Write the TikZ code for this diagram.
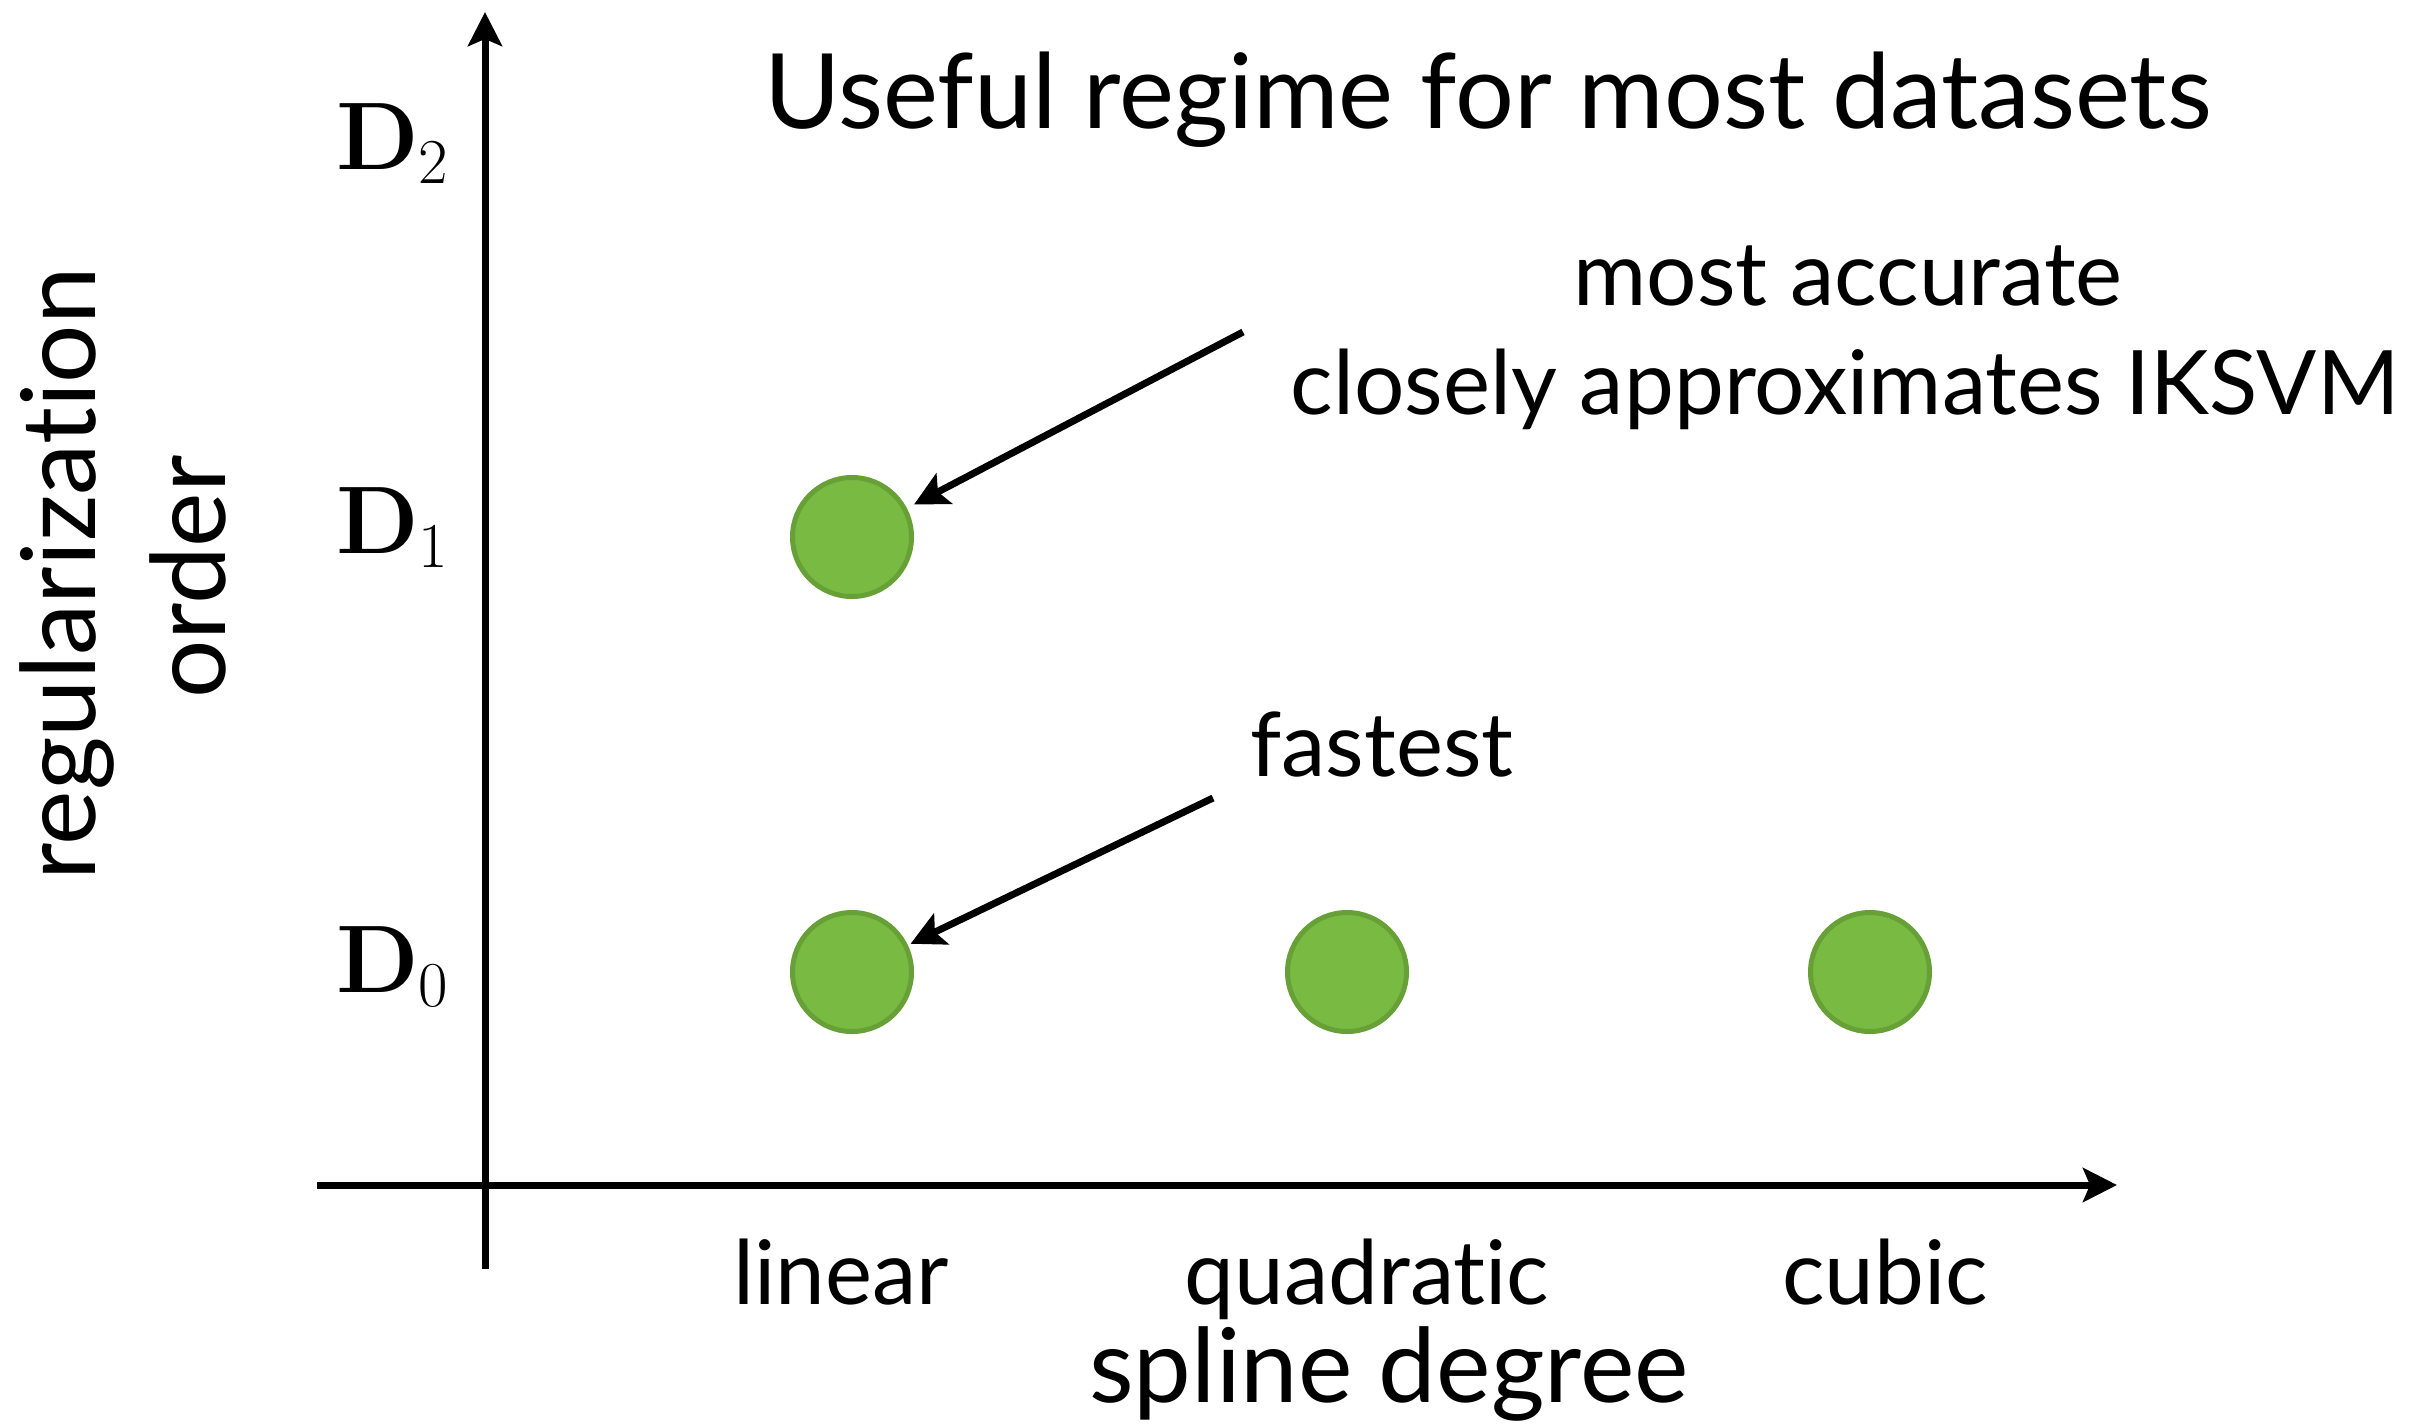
\documentclass[tikz,border=0pt]{standalone}
\usepackage{fontspec}
\newfontfamily\gill[Ligatures=NoCommon]{Lato}
\usetikzlibrary{arrows.meta}
\definecolor{dotfill}{RGB}{121,186,66}
\definecolor{dotline}{RGB}{104,160,56}
\begin{document}
\begin{tikzpicture}[x=1pt,y=-1pt,
  axis/.style={line width=7pt,-{Stealth[length=34pt,width=34pt,inset=7pt]}},
  pointer/.style={line width=7pt,-{Stealth[length=34pt,width=34pt,inset=7pt]}},
  dot/.style={circle,fill=dotfill,draw=dotline,line width=5pt,minimum size=119pt,inner sep=0pt},
  big/.style={font=\gill\fontsize{103}{120}\selectfont,inner sep=0pt,anchor=base},
  small/.style={font=\gill\fontsize{89}{100}\selectfont,inner sep=0pt,anchor=base},
  dlab/.style={font=\fontsize{96}{96}\selectfont,inner sep=0pt,anchor=base west}]
\useasboundingbox[fill=white] (0,0) rectangle (2421,1425);
% axes
\coordinate (yb) at (485,1269);
\coordinate (yt) at (485,12);
\coordinate (xl) at (317,1185);
\coordinate (xr) at (2117,1185);
\draw[axis] (yb) -- (yt);
\draw[axis] (xl) -- (xr);
% dots
\node[dot] (c1) at (852,537) {};
\node[dot] (c0) at (852,972) {};
\node[dot] (q0) at (1347,972) {};
\node[dot] (k0) at (1870,972) {};
% level labels
\node[dlab] (d2) at (336,169) {\textbf{D}\raisebox{-14pt}{\fontsize{64}{64}\selectfont 2}};
\node[dlab] (d1) at (336,553) {\textbf{D}\raisebox{-14pt}{\fontsize{64}{64}\selectfont 1}};
\node[dlab] (d0) at (336,992) {\textbf{D}\raisebox{-14pt}{\fontsize{64}{64}\selectfont 0}};
% texts
\node[big,font=\gill\fontsize{104}{120}\selectfont] (title) at (1488,128) {Useful regime for most datasets};
\node[small] (ma) at (1848,305) {most accurate};
\node[small] (ca) at (1845,414) {closely approximates IKSVM};
\node[small] (fast) at (1382,776) {fastest};
\node[small] (lin) at (841,1304) {linear};
\node[small] (quad) at (1367,1304) {quadratic};
\node[small] (cub) at (1885,1304) {cubic};
\node[big] (xlab) at (1389,1402) {spline degree};
\node[big,rotate=90] (ylab1) at (95,574) {regularization};
\node[big,rotate=90] (ylab2) at (225,577) {order};
% pointers
\coordinate (p1) at (1243,332);
\coordinate (p0) at (1213,798);
\draw[pointer,shorten >=8pt] (p1) -- (c1);
\draw[pointer,shorten >=3pt] (p0) -- (c0);
\end{tikzpicture}
\end{document}
